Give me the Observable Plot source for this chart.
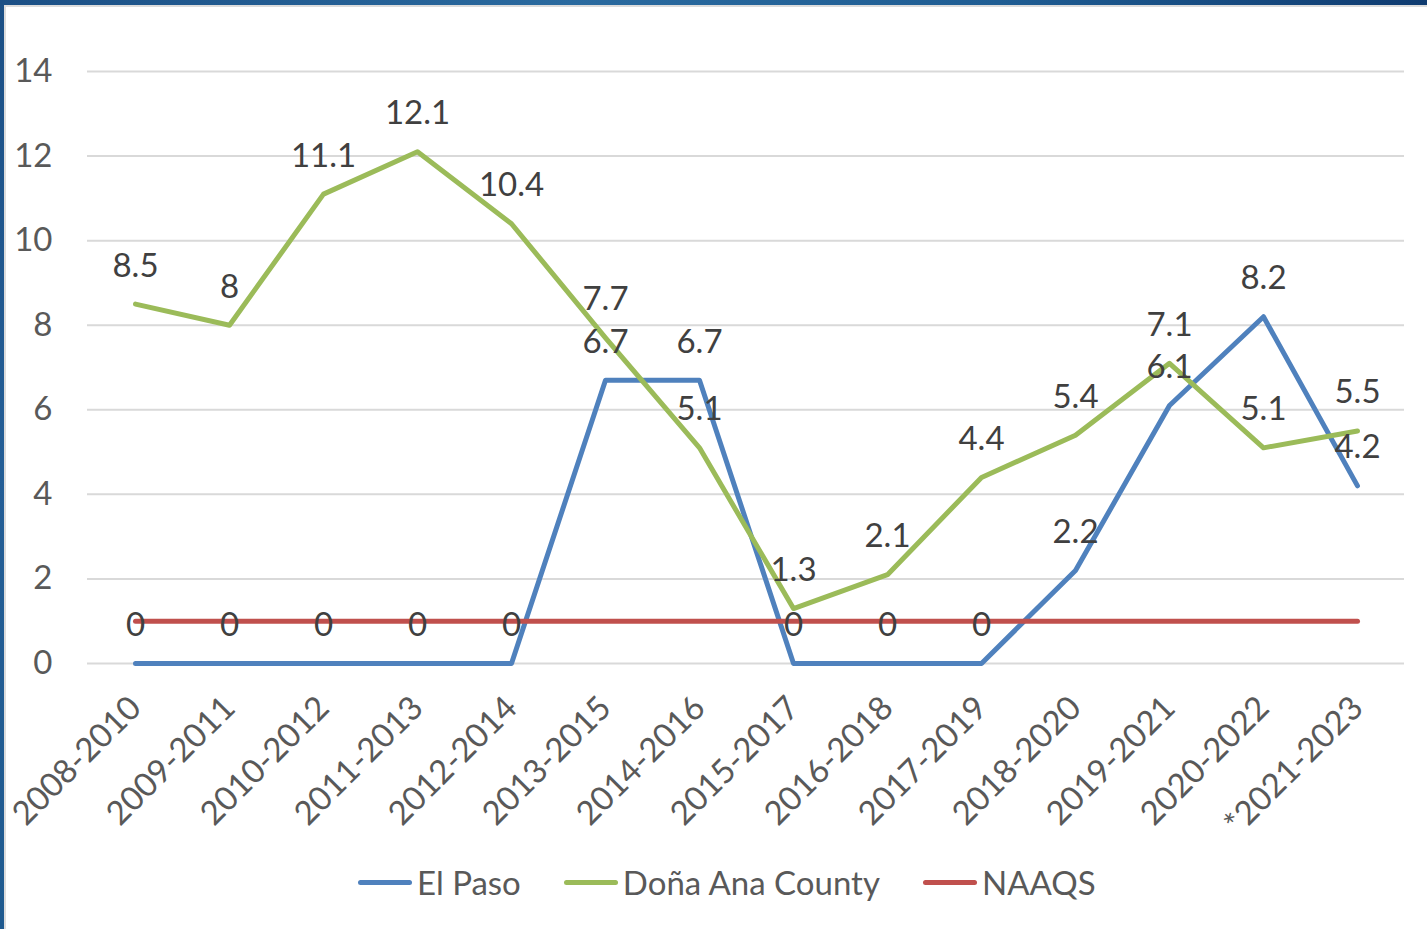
<!DOCTYPE html>
<html><head><meta charset="utf-8">
<script src="https://cdn.jsdelivr.net/npm/d3@7"></script>
<script src="https://cdn.jsdelivr.net/npm/@observablehq/plot@0.6"></script>
<style>
body{margin:0;background:#fff;width:1427px;height:929px;overflow:hidden;position:relative;font-family:Lato,"Open Sans",sans-serif;}
#topbar{position:absolute;left:0;top:0;width:1427px;height:5px;background:linear-gradient(90deg,#1b4f85,#2a6a9f 40%,#1f5d93 70%,#0f3b70);z-index:2}
#topline{position:absolute;left:4px;top:5px;width:1423px;height:2px;background:#dcdcdc;z-index:2}
#leftbar{position:absolute;left:0;top:0;width:4px;height:929px;background:linear-gradient(180deg,#1b4f85,#245e96 50%,#1f5a8f);z-index:2}
#leftline{position:absolute;left:4px;top:5px;width:2px;height:924px;background:#dcdcdc;z-index:2}
#chart{position:absolute;left:0;top:0;}
#legend{position:absolute;top:862px;left:358px;display:flex;align-items:center;font-size:33px;color:#595959;white-space:nowrap}
.item{display:flex;align-items:center;margin-right:43px}
.sw{display:inline-block;width:54px;height:5px;border-radius:3px;margin-right:5px}
</style></head>
<body>
<div id="topbar"></div><div id="topline"></div><div id="leftbar"></div><div id="leftline"></div>
<div id="chart"></div>
<div id="legend"></div>
<script>
const categories = ["2008-2010","2009-2011","2010-2012","2011-2013","2012-2014","2013-2015","2014-2016","2015-2017","2016-2018","2017-2019","2018-2020","2019-2021","2020-2022","*2021-2023"];
const elPaso = [0,0,0,0,0,6.7,6.7,0,0,0,2.2,6.1,8.2,4.2];
const donaAna = [8.5,8,11.1,12.1,10.4,7.7,5.1,1.3,2.1,4.4,5.4,7.1,5.1,5.5];
const naaqs = [1,1,1,1,1,1,1,1,1,1,1,1,1,1];
const yTicks = [0,2,4,6,8,10,12,14];
const seriesNames = ["El Paso","Doña Ana County","NAAQS"];
const seriesColors = ["#4f81bd","#9bbb59","#c0504d"];

const toRows = (vals, name) => categories.map((c,i)=>({cat:c, value:vals[i], series:name}));
const epRows = toRows(elPaso, seriesNames[0]);
const daRows = toRows(donaAna, seriesNames[1]);
const nqRows = toRows(naaqs, seriesNames[2]);

const lineOpts = {x:"cat", y:"value", stroke:"series", strokeWidth:5, strokeLinecap:"round", strokeLinejoin:"round"};
const textOpts = {x:"cat", y:"value", text:d=>String(d.value), dy:-38, fill:"#404040", fontSize:33};

const chart = Plot.plot({
  width:1427, height:850,
  marginLeft:87, marginRight:23, marginTop:71, marginBottom:187,
  style:{fontFamily:"Lato, 'Open Sans', sans-serif", fontSize:"33px", color:"#595959", background:"transparent", overflow:"visible"},
  x:{type:"point", domain:categories, padding:0.5, label:null},
  y:{domain:[0,14], ticks:yTicks, label:null},
  color:{domain:seriesNames, range:seriesColors},
  marks:[
    Plot.gridY(yTicks, {stroke:"#d9d9d9", strokeWidth:2, strokeOpacity:1}),
    Plot.axisY({ticks:yTicks, tickSize:0, tickPadding:35, fontSize:33, fill:"#595959", label:null}),
    Plot.axisX({tickRotate:-45, tickSize:0, tickPadding:39, fontSize:33, fill:"#595959", label:null}),
    Plot.line(epRows, lineOpts),
    Plot.line(daRows, lineOpts),
    Plot.line(nqRows, lineOpts),
    Plot.text(epRows, textOpts),
    Plot.text(daRows, textOpts)
  ]
});
document.getElementById("chart").appendChild(chart);

const legend = document.getElementById("legend");
seriesNames.forEach((n,i)=>{
  const it = document.createElement("div"); it.className="item";
  const sw = document.createElement("span"); sw.className="sw"; sw.style.background=seriesColors[i];
  const tx = document.createElement("span"); tx.textContent=n;
  it.appendChild(sw); it.appendChild(tx); legend.appendChild(it);
});
</script>
</body></html>
